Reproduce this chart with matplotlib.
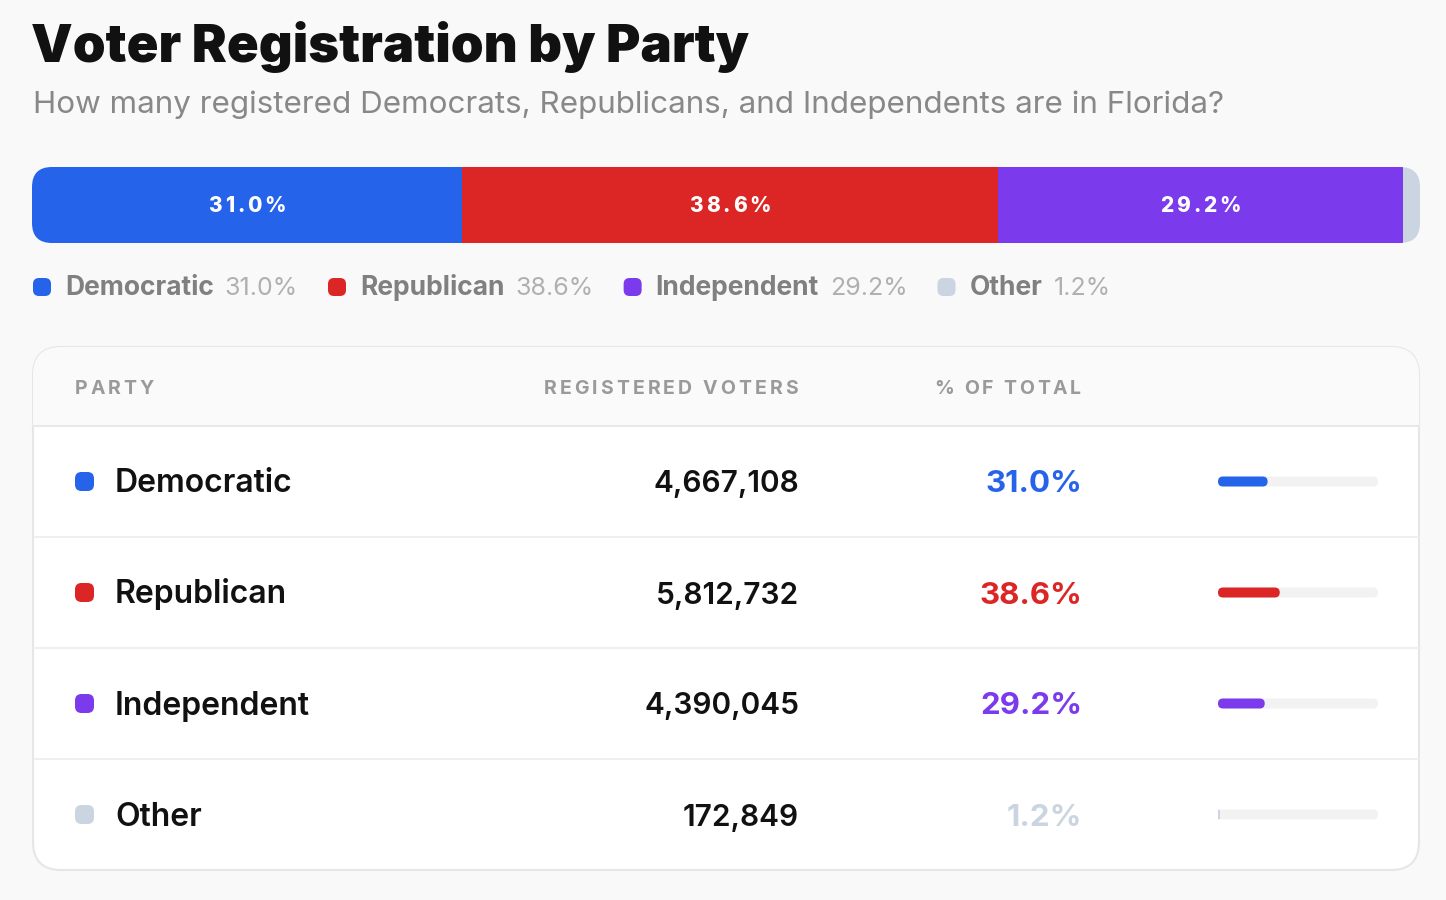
import matplotlib
matplotlib.use('Agg')
from matplotlib import pyplot as plt
from matplotlib.patches import FancyBboxPatch, Rectangle

plt.rcParams['font.family'] = ['Inter', 'DejaVu Sans']

# data
parties = ['Democratic', 'Republican', 'Independent', 'Other']
voters = [4667108, 5812732, 4390045, 172849]
shares = [31.0, 38.6, 29.2, 1.2]
colors = ['#2563eb', '#dc2626', '#7c3aed', '#cbd5e1']
headers = ['PARTY', 'REGISTERED VOTERS', '% OF TOTAL']

title = 'Voter Registration by Party'
subtitle = 'How many registered Democrats, Republicans, and Independents are in Florida?'

W, H = 1446, 900
fig = plt.figure(figsize=(W / 100, H / 100), dpi=100, facecolor='#f9f9f9')
ax = fig.add_axes([0, 0, 1, 1])
ax.set_xlim(0, W)
ax.set_ylim(H, 0)
ax.axis('off')
renderer = fig.canvas.get_renderer()


def text_width(s, **kw):
    t = ax.text(0, 0, s, **kw)
    w = t.get_window_extent(renderer).width
    t.remove()
    return w


def spaced_text(x, y, s, track, ha='left', target=None, **kw):
    # no letter spacing in matplotlib, so place glyph by glyph (pixel coords of ax)
    target = target or ax
    widths = []
    for ch in s:
        if ch == ' ':
            widths.append(text_width('x x', **kw) - text_width('xx', **kw))
        else:
            widths.append(text_width(ch, **kw))
    total = sum(widths) + track * (len(s) - 1)
    if ha == 'right':
        x = x - total
    elif ha == 'center':
        x = x - total / 2
    for ch, w in zip(s, widths):
        if ch != ' ':
            target.text(x, y, ch, ha='left', transform=ax.transData, **kw)
        x += w + track
    return total


# title
ax.text(31, 62, title, fontsize=37.8, fontweight='black', color='#111111', va='baseline')
ax.text(33, 113, subtitle, fontsize=22.6, color='#888888', va='baseline')

# stacked bar
bx, by, bw, bh = 32, 167, 1388, 76
bar_ax = fig.add_axes([bx / W, 1 - (by + bh) / H, bw / W, bh / H])
bar_ax.set_xlim(0, 100)
bar_ax.set_ylim(-0.5, 0.5)
bar_ax.axis('off')
clip = FancyBboxPatch((bx, by), bw, bh, boxstyle='round,pad=0,rounding_size=20',
                      transform=ax.transData, facecolor='none', edgecolor='none')
ax.add_patch(clip)
left = 0
for p, c in zip(shares, colors):
    bars = bar_ax.barh(0, p, left=left, height=1, color=c, linewidth=0)
    for b in bars:
        b.set_clip_path(clip)
    if p > 5:
        cx, cy = ax.transData.inverted().transform(bar_ax.transData.transform((left + p / 2, 0)))
        spaced_text(cx, cy + 7.5, f'{p:.1f}%', 2.9, ha='center', target=bar_ax, fontsize=15,
                    fontweight='heavy', color='white', va='baseline')
    left += p

# legend
lx = 33
for name, p, c in zip(parties, shares, colors):
    ax.add_patch(FancyBboxPatch((lx, 278), 18, 18, boxstyle='round,pad=0,rounding_size=6',
                                facecolor=c, edgecolor='none'))
    t1 = ax.text(lx + 32, 295, name, fontsize=19, fontweight='bold', color='#808080', va='baseline')
    w1 = t1.get_window_extent(renderer).width
    t2 = ax.text(lx + 32 + w1 + 11, 295, f'{p:.1f}%', fontsize=18, color='#b0b0b0', va='baseline')
    w2 = t2.get_window_extent(renderer).width
    lx = lx + 32 + w1 + 11 + w2 + 30

# table card
cx0, cy0, cw, ch = 33, 347, 1386, 523
ax.add_patch(FancyBboxPatch((cx0, cy0), cw, ch, boxstyle='round,pad=0,rounding_size=28',
                            facecolor='white', edgecolor='#e6e6e6', linewidth=1.5, zorder=1))
card_clip = FancyBboxPatch((cx0, cy0), cw, ch, boxstyle='round,pad=0,rounding_size=28',
                           transform=ax.transData, facecolor='none', edgecolor='none')
ax.add_patch(card_clip)
head_h = 79
hdr = Rectangle((cx0, cy0), cw, head_h, facecolor='#fafafa', edgecolor='none', zorder=2)
ax.add_patch(hdr)
hdr.set_clip_path(card_clip)
ax.plot([cx0, cx0 + cw], [cy0 + head_h, cy0 + head_h], color='#e8e8e8', lw=1.5, zorder=3)

hy = cy0 + head_h / 2 + 7
hkw = dict(fontsize=14, fontweight='bold', color='#9a9a9a', va='baseline', zorder=4)
spaced_text(75, hy, headers[0], 2.8, ha='left', **hkw)
spaced_text(798, hy, headers[1], 3.1, ha='right', **hkw)
spaced_text(1081, hy, headers[2], 2.8, ha='right', **hkw)

row_h = (ch - head_h) / len(parties)
track_x, track_w, track_h = 1218, 160, 10
for i, (name, v, p, c) in enumerate(zip(parties, voters, shares, colors)):
    top = cy0 + head_h + i * row_h
    mid = top + row_h / 2
    if i > 0:
        ax.plot([cx0 + 1, cx0 + cw - 1], [top, top], color='#efefef', lw=1.5, zorder=3)
    ax.add_patch(FancyBboxPatch((75, mid - 9.5), 19, 19, boxstyle='round,pad=0,rounding_size=6.5',
                                facecolor=c, edgecolor='none', zorder=4))
    base = mid + 11
    ax.text(115, base, name, fontsize=23, fontweight='semibold', color='#111111', va='baseline', zorder=4)
    ax.text(799, base, f'{v:,}', fontsize=21.5, fontweight='semibold', color='#111111',
            va='baseline', ha='right', zorder=4)
    ax.text(1082, base, f'{p:.1f}%', fontsize=22.5, fontweight='bold', color=c,
            va='baseline', ha='right', zorder=4)
    ax.add_patch(FancyBboxPatch((track_x, mid - track_h / 2), track_w, track_h,
                                boxstyle='round,pad=0,rounding_size=5',
                                facecolor='#f2f2f2', edgecolor='none', zorder=4))
    fw = p / 100 * track_w
    ax.add_patch(FancyBboxPatch((track_x, mid - track_h / 2), fw, track_h,
                                boxstyle=f'round,pad=0,rounding_size={min(5, fw / 2)}',
                                facecolor=c, edgecolor='none', zorder=5))

fig.savefig('out.png', dpi=100, facecolor=fig.get_facecolor())
